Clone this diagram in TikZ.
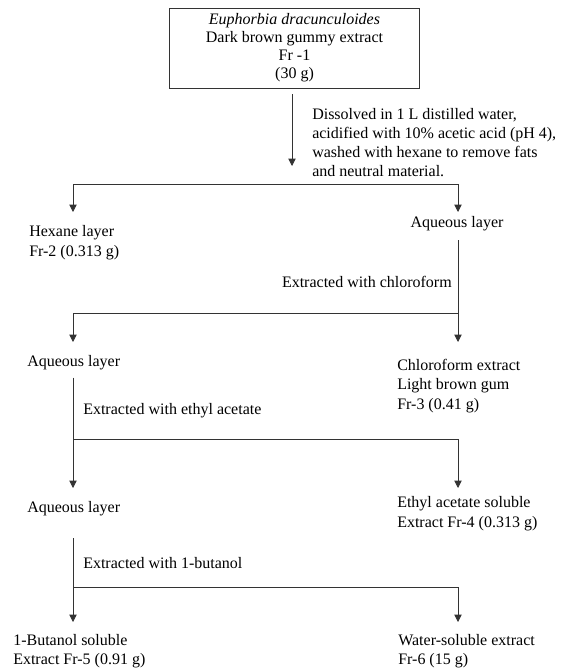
\documentclass[tikz,border=0pt]{standalone}
\usepackage{fontspec}
\setmainfont{Liberation Serif}
\usetikzlibrary{arrows.meta}

\tikzset{
  flow/.style={draw=black!80, line width=0.6pt},
  arr/.style={flow, -{Triangle[length=5.5pt,width=5.5pt]}},
  twoarr/.style={flow, {Triangle[length=5.5pt,width=5.5pt]}-{Triangle[length=5.5pt,width=5.5pt]}},
  txt/.style={anchor=base west, align=left, inner sep=0pt, font=\fontsize{12}{14.4}\selectfont},
  fracbox/.style={draw=black!80, line width=0.6pt, align=center, inner sep=0pt,
    minimum width=188pt, minimum height=60pt, font=\fontsize{12}{13.5}\selectfont}
}

\begin{document}
\begin{tikzpicture}[x=0.75pt, y=-0.75pt]
    \useasboundingbox (0,0) rectangle (570,670);

    % junctions and arrow tips
    \coordinate (d1) at (292,166);
    \coordinate (s1l) at (73,184);
    \coordinate (s1r) at (458,184);
    \coordinate (t1l) at (73,212);
    \coordinate (t1r) at (458,212);
    \coordinate (s2l) at (73,313);
    \coordinate (s2r) at (458,313);
    \coordinate (t2l) at (73,342);
    \coordinate (t2r) at (458,342);
    \coordinate (s3l) at (73,439);
    \coordinate (s3r) at (458,439);
    \coordinate (t3l) at (73,488);
    \coordinate (t3r) at (458,488);
    \coordinate (s4l) at (73,587);
    \coordinate (s4r) at (458,587);
    \coordinate (t4l) at (73,622);
    \coordinate (t4r) at (458,622);

    % text nodes (multi-line ones sit on their last baseline)
    \node[fracbox] (fr1) at (294.5,48) {\textit{Euphorbia dracunculoides}\\Dark brown gummy extract\\Fr -1\\(30 g)};
    \node[txt] (wash) at (312,177) {Dissolved in 1 L distilled water,\\acidified with 10\% acetic acid (pH 4),\\washed with hexane to remove fats\\and neutral material.};
    \node[txt] (fr2) at (29,256) {Hexane layer\\Fr-2 (0.313 g)};
    \node[txt, anchor=base] (aq1) at (457,228) {Aqueous layer};
    \node[txt, anchor=base east] (chl) at (452,287) {Extracted with chloroform};
    \node[txt] (aq2) at (27,366) {Aqueous layer};
    \node[txt] (fr3) at (397,409) {Chloroform extract\\Light brown gum\\Fr-3 (0.41 g)};
    \node[txt] (eta) at (83,414) {Extracted with ethyl acetate};
    \node[txt] (aq3) at (27,512) {Aqueous layer};
    \node[txt] (fr4) at (397,527) {Ethyl acetate soluble\\Extract Fr-4 (0.313 g)};
    \node[txt] (but) at (83,568) {Extracted with 1-butanol};
    \node[txt] (fr5) at (13,664.5) {1-Butanol soluble\\Extract Fr-5 (0.91 g)};
    \node[txt] (fr6) at (398,664.5) {Water-soluble extract\\Fr-6 (15 g)};

    \draw[arr, shorten <=4.5pt] (fr1.south -| d1) -- (d1);
    \draw[twoarr] (t1l) -- (s1l) -- (s1r) -- (t1r);
    \draw[arr, shorten <=6.4pt] (aq1.south -| s2r) -- (t2r);
    \draw[arr] (s2r) -- (s2l) -- (t2l);
    \draw[arr, shorten <=6pt] (aq2.south -| s3l) -- (t3l);
    \draw[arr] (s3l) -- (s3r) -- (t3r);
    \draw[arr, shorten <=17pt] (aq3.south -| s4l) -- (t4l);
    \draw[arr] (s4l) -- (s4r) -- (t4r);
\end{tikzpicture}
\end{document}
